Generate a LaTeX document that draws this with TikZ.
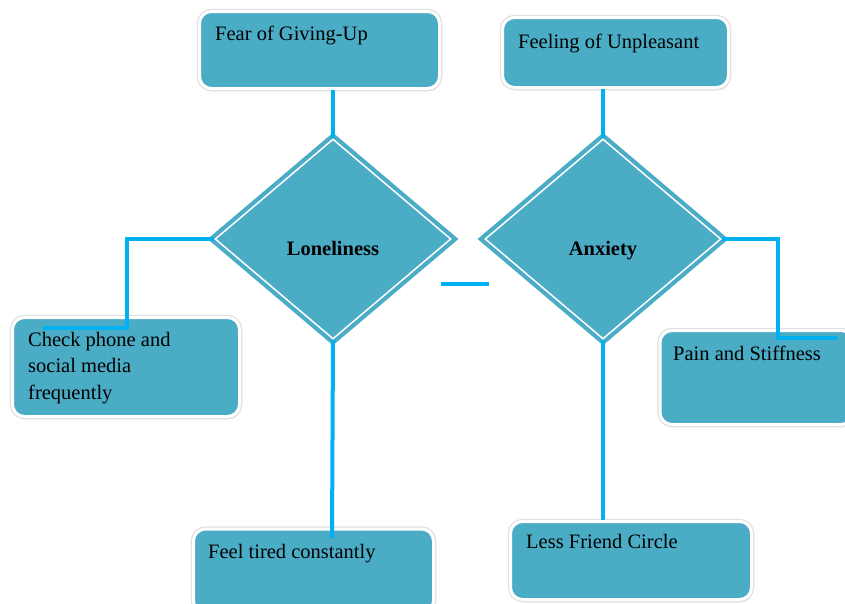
\documentclass[tikz,border=0pt]{standalone}
\usepackage{fontspec}
\setmainfont{Liberation Serif}
\usetikzlibrary{shapes.geometric}
\usetikzlibrary{shadows}
\definecolor{boxblue}{HTML}{4BACC6}
\definecolor{linkblue}{HTML}{00B0F0}

\begin{document}
\begin{tikzpicture}[x=1pt, y=-1pt,
 box/.style={rectangle, rounded corners=12pt, fill=boxblue, draw=white, line width=3pt, inner sep=0,
   drop shadow={shadow xshift=1.5pt, shadow yshift=-2.5pt, fill=black!45},
   preaction={draw=black!12, line width=5.5pt}},
 dmd/.style={diamond, fill=boxblue, draw=white, line width=1.5pt, inner sep=0,
   minimum width=236pt, minimum height=200pt, preaction={draw=boxblue, line width=10pt}},
 txt/.style={anchor=base west, inner sep=0, align=left, font=\fontsize{20.5}{26.5}\selectfont},
 dtxt/.style={anchor=base, inner sep=0, font=\fontsize{20.5}{26.5}\selectfont\bfseries},
 link/.style={draw=linkblue, line width=4pt}]
\useasboundingbox (0,0) rectangle (845,603);
\node[box, minimum width=240pt, minimum height=77pt] (fear) at (319.5,50) {};
\node[txt] (fear-t) at (215,40) {Fear of Giving-Up};
\node[box, minimum width=226pt, minimum height=70pt] (unpl) at (615.5,52.5) {};
\node[txt] (unpl-t) at (518,48) {Feeling of Unpleasant};
\node[box, minimum width=227pt, minimum height=99pt] (check) at (126,367) {};
\node[txt] (check-t) at (28,399) {Check phone and\\social media\\frequently};
\node[box, minimum width=193pt, minimum height=94pt] (pain) at (756.5,377.5) {};
\node[txt] (pain-t) at (673,360) {Pain and Stiffness};
\node[box, minimum width=240pt, minimum height=84pt] (tired) at (313.5,571) {};
\node[txt] (tired-t) at (208,558) {Feel tired constantly};
\node[box, minimum width=241pt, minimum height=78pt] (friend) at (631,560.5) {};
\node[txt] (friend-t) at (526,548) {Less Friend Circle};
\node[dmd] (lone) at (333,239) {};
\node[dtxt] (lone-t) at (333,255) {Loneliness};
\node[dmd] (anx) at (603,239) {};
\node[dtxt] (anx-t) at (603,255) {Anxiety};
\coordinate (chk-in) at (127,328);
\coordinate (chk-end) at (43,328);
\coordinate (pain-in) at (778,338);
\coordinate (pain-end) at (837,338);
\coordinate (tired-end) at (332,538);
\coordinate (gap-a) at (441,284);
\coordinate (gap-b) at (489,284);
\draw[link] (lone.north |- fear.south) -- (lone.north);
\draw[link] (anx.north |- unpl.south) -- (anx.north);
\draw[link] (lone.west) -| (chk-in) -- (chk-end);
\draw[link] (anx.east) -| (pain-in) -- (pain-end);
\draw[link] (lone.south) -- (tired-end);
\draw[link] (anx.south) -- (anx.south |- friend.north);
\draw[link] (gap-a) -- (gap-b);
\end{tikzpicture}
\end{document}
